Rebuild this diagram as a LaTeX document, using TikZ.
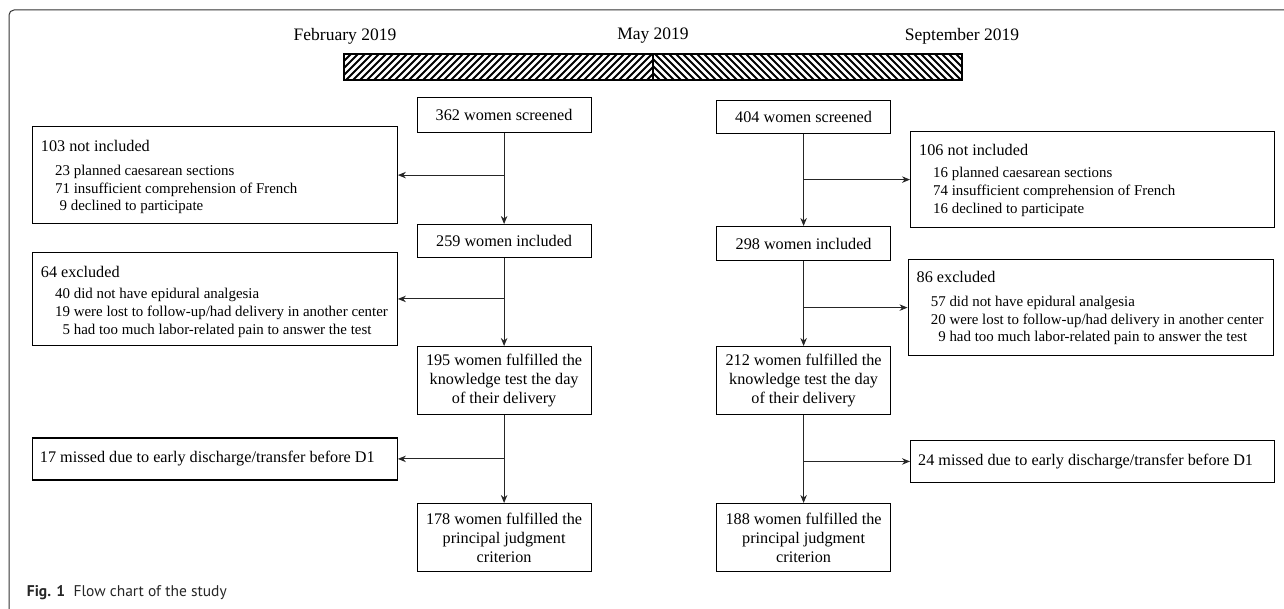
\documentclass[tikz,border=0pt]{standalone}
\usepackage{fontspec}
\setmainfont{Liberation Serif}
\newfontfamily\capfont{PT Sans}
\usetikzlibrary{arrows.meta,calc}
\begin{document}
\begin{tikzpicture}[x=1pt,y=-1pt,
  box/.style={draw=black,line width=1.2pt,rectangle,inner sep=0pt,anchor=north west},
  cbox/.style={box,minimum width=174pt,font=\fontsize{16.2}{19}\selectfont,align=center},
  sbox/.style={box,minimum width=365pt},
  ttl/.style={font=\fontsize{16.2}{19}\selectfont,anchor=west,inner sep=0pt},
  itm/.style={font=\fontsize{14.9}{18}\selectfont,anchor=west,inner sep=0pt},
  datelbl/.style={font=\fontsize{17.5}{20}\selectfont,inner sep=0pt},
  arr/.style={draw=black!85,line width=0.9pt,-{Stealth[length=8pt,width=6.5pt]}},
  hatch/.style={line width=1.8pt,black}
]
\useasboundingbox (0,0) rectangle (1284,609);
% frame
\draw[black!80,line width=1pt,rounded corners=5pt] (9,609) -- (9,10) -- (1284,10);
% timeline labels
\node[datelbl] (feb) at (345,36) {February 2019};
\node[datelbl] (may) at (653,36) {May 2019};
\node[datelbl] (sep) at (962,36) {September 2019};
% hatched bar
\begin{scope}
\clip (344,54) rectangle (653,80);
\foreach \i in {0,...,50} {\draw[hatch] (318+\i*7,80) -- (344+\i*7,54);}
\end{scope}
\begin{scope}
\clip (653,54) rectangle (962,80);
\foreach \i in {0,...,50} {\draw[hatch] (627+\i*7,54) -- (653+\i*7,80);}
\end{scope}
\draw[line width=1.3pt] (344,54) rectangle (962,80);
\draw[line width=1.3pt] (653,54) -- (653,80);
% left column
\node[cbox,minimum height=34.4pt] (s1) at (416.5,97.3) {362 women screened};
\node[cbox,minimum height=33.3pt] (i1) at (416.5,224) {259 women included};
\node[cbox,minimum height=68pt] (f1) at (416.5,346) {195 women fulfilled the\\knowledge test the day\\of their delivery};
\node[cbox,minimum height=68pt] (p1) at (416.5,503) {178 women fulfilled the\\principal judgment\\criterion};
% right column
\node[cbox,minimum height=33.3pt] (s2) at (716,100) {404 women screened};
\node[cbox,minimum height=34pt] (i2) at (716,226) {298 women included};
\node[cbox,minimum height=68pt] (f2) at (716,346) {212 women fulfilled the\\knowledge test the day\\of their delivery};
\node[cbox,minimum height=68pt] (p2) at (716,503) {188 women fulfilled the\\principal judgment\\criterion};
% left side boxes
\node[sbox,minimum height=97pt] (n1) at (31.7,126) {};
\node[ttl] (n1t) at (40.7,146) {103 not included};
\node[itm] (n1a) at (55,171.7) {23 planned caesarean sections};
\node[itm] (n1b) at (55,189.5) {71 insufficient comprehension of French};
\node[itm] (n1c) at (55,207.3) {\hspace{0.3em}9 declined to participate};
\node[sbox,minimum height=93.3pt] (e1) at (31.7,251.7) {};
\node[ttl] (e1t) at (40.7,271.7) {64 excluded};
\node[itm] (e1a) at (55,295) {40 did not have epidural analgesia};
\node[itm] (e1b) at (55,313) {19 were lost to follow-up/had delivery in another center};
\node[itm] (e1c) at (55,331) {\hphantom{0}5 had too much labor-related pain to answer the test};
\node[sbox,minimum height=42pt] (m1) at (31.7,437.3) {};
\node[ttl] (m1t) at ($(m1.west)+(8,0)$) {17 missed due to early discharge/transfer before D1};
% right side boxes
\node[sbox,minimum height=96pt,minimum width=364pt] (n2) at (910,131) {};
\node[ttl] (n2t) at (919,150) {106 not included};
\node[itm] (n2a) at (933,174) {16 planned caesarean sections};
\node[itm] (n2b) at (933,192) {74 insufficient comprehension of French};
\node[itm] (n2c) at (933,210) {16 declined to participate};
\node[sbox,minimum height=96pt] (e2) at (907.5,259) {};
\node[ttl] (e2t) at (916.5,277) {86 excluded};
\node[itm] (e2a) at (930.7,303) {57 did not have epidural analgesia};
\node[itm] (e2b) at (930.7,320.7) {20 were lost to follow-up/had delivery in another center};
\node[itm] (e2c) at (930.7,338.3) {\hphantom{0}9 had too much labor-related pain to answer the test};
\node[sbox,minimum height=41.7pt,minimum width=364pt] (m2) at (910,440) {};
\node[ttl] (m2t) at ($(m2.west)+(8,0)$) {24 missed due to early discharge/transfer before D1};
% connectors left
\draw[arr] (s1.south) -- (i1.north);
\draw[arr] (i1.south) -- (f1.north);
\draw[arr] (f1.south) -- (p1.north);
\draw[arr] (s1.south |- n1.east) -- (n1.east);
\draw[arr] (i1.south |- e1.east) -- (e1.east);
\draw[arr] (f1.south |- m1.east) -- (m1.east);
% connectors right
\draw[arr] (s2.south) -- (i2.north);
\draw[arr] (i2.south) -- (f2.north);
\draw[arr] (f2.south) -- (p2.north);
\draw[arr] (s2.south |- n2.west) -- (n2.west);
\draw[arr] (i2.south |- e2.west) -- (e2.west);
\draw[arr] (f2.south |- m2.west) -- (m2.west);
% caption
\node[anchor=base west,inner sep=0pt,font=\capfont\fontsize{15.5}{18}\selectfont,text=black!85] (cap) at (26.7,596) {\textbf{Fig. 1}\hspace{0.55em}Flow chart of the study};
\end{tikzpicture}
\end{document}
